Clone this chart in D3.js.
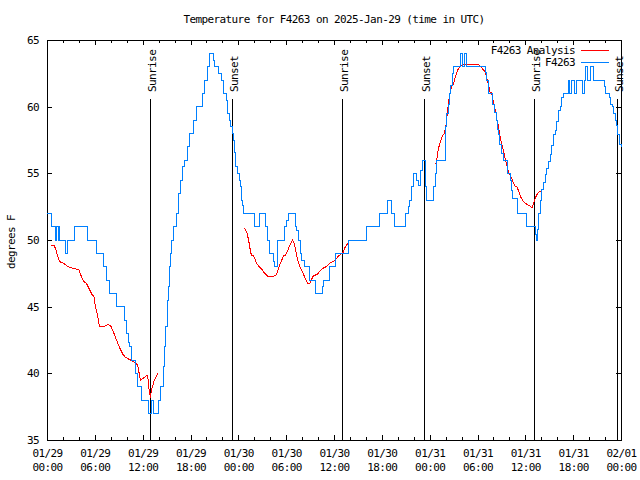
<!DOCTYPE html>
<html><head><meta charset="utf-8">
<script src="https://cdn.jsdelivr.net/npm/d3@7"></script>
<style>
body{margin:0;background:#fff}
svg text{font-family:"DejaVu Sans Mono",monospace;font-size:11px;letter-spacing:-0.6px;fill:#000}
</style></head><body>
<svg id="c" width="640" height="480"></svg>
<script>
const title = "Temperature for F4263 on 2025-Jan-29 (time in UTC)";
const yLabel = "degrees F";
const yTicks = [35, 40, 45, 50, 55, 60, 65];
const startTime = "2025-01-29T00:00:00Z";
const spanHours = 72;
const sunriseHours = [12.96, 37.04, 61.13];
const sunsetHours = [23.24, 47.33, 71.44];
const seriesNames = ["F4263 Analysis", "F4263"];

// observations (F4263) - hours since start, degrees F (value holds until next point)
const obsHours = [0,0.53,1.07,1.19,1.38,1.50,1.63,2.32,2.57,3.51,5.04,6.17,7.04,7.46,7.87,8.71,9.75,9.92,10.17,10.34,10.59,11.13,11.3,11.84,12.76,13.06,13.31,13.97,14.27,14.6,14.79,14.91,15.06,15.16,15.27,15.39,15.52,15.64,15.9,16.19,16.44,16.73,17.02,17.27,17.57,17.86,18.4,18.74,19.45,19.74,20.08,20.4,20.9,21.05,21.56,21.83,22.16,22.46,22.68,22.87,23.06,23.25,23.41,23.54,23.66,23.88,24.09,24.29,24.38,24.5,24.71,26.0,26.69,27.38,27.6,27.92,28.42,28.55,28.97,29.85,30.1,30.23,31.14,31.35,31.56,31.77,31.98,32.27,32.9,33.74,34.57,34.69,35.4,36.2,37.79,40.13,41.71,42.67,43.27,43.64,44.99,45.3,45.52,45.72,46.02,46.4,46.62,46.87,47.1,47.5,47.66,48.48,48.69,48.85,50.03,50.15,50.32,50.48,50.66,50.82,50.98,51.82,52.07,52.33,52.64,54.96,55.17,55.37,55.87,56.08,56.33,56.46,56.65,56.77,56.96,57.21,57.78,58.09,58.21,58.43,58.97,60.12,61.26,61.41,61.54,61.66,61.85,62.06,62.26,62.48,62.69,62.89,63.1,63.31,63.52,63.73,63.94,64.14,64.36,64.57,64.77,65.36,65.55,65.8,66.17,66.36,67.18,67.37,67.49,67.81,68.18,68.5,69.87,70.09,70.5,70.71,70.88,71.04,71.25,71.46,71.59,71.79,72];
const obsTemps = [52,51,50,51,50,51,50,49,50,51,50,49,48,47,46,45,44,43,42.3,42,41,40,39,38,37,38,37,38,39,40.5,42,43.5,44.5,45.5,46.5,48,49,50,51,52,53.5,54.5,55.5,56,57,58,59,60,61,62,63,64,63.5,63,62.5,62,61,60.5,59.5,59,58.5,58,57.5,56.6,55.5,55,54.5,54,53,52.6,52,51,52,51,50,49,48.4,48,50,51,51.5,52,51,50.7,50,49,48.5,48,47,46,46.5,47,48,49,50,51,52,53,52,51,52,52.5,53,54,55,54.5,54.1,55.2,56,54,53,54,55,56,58.5,59.5,60.2,61,61.6,62.5,63,64,63,64,63,62.6,62,61,60.2,59.6,59,58.3,57.9,57.2,56.5,56,55,54.5,53.7,53.1,52,51,50.4,50,50.8,52,53,53.8,54.3,54.9,55.4,55.9,56.4,57.1,57.9,58.2,58.9,59.7,60,60.7,61,62,61,62,61,62,61,62,63,62,63,62,61.5,61,60.7,60.2,60,59.5,59,58.6,57.9,57.2,57];

// analysis (F4263 Analysis) - null marks a gap
const anaHours = [0.53,0.85,1.07,1.28,1.6,2.11,2.61,3.57,3.99,4.29,4.61,4.95,5.24,5.66,5.87,6.08,6.29,6.49,6.62,7.12,7.62,7.96,8.3,8.71,9.12,9.55,9.84,10.46,11.09,11.38,11.72,12.13,12.56,12.63,12.85,12.97,13.18,13.47,13.81,13.94,
  null,
  24.79,25.09,25.29,25.42,25.63,25.92,26.13,26.34,26.67,26.97,27.17,27.51,27.72,28.22,28.76,29.05,29.35,29.68,29.93,30.3,30.61,30.81,30.93,31.14,31.36,31.56,31.77,32.11,32.4,32.69,32.94,33.15,33.44,33.86,34.19,34.62,35.03,35.44,35.87,36.16,36.57,36.87,37.12,37.32,37.54,37.75,37.91,
  null,
  48.78,48.9,49.1,49.32,49.65,49.86,50.07,50.23,50.36,50.57,50.78,50.98,51.2,51.41,51.61,51.82,52.24,52.66,53.7,54.12,54.54,54.96,55.17,55.37,55.58,55.79,56.0,56.3,56.42,56.63,56.84,57.05,57.25,57.46,57.67,57.88,58.13,58.3,58.5,58.72,58.97,59.19,59.47,59.72,60.03,60.35,60.63,60.84,61.01,61.22,61.47,61.72,61.91];
const anaTemps = [49.62,49.62,49.37,48.9,48.37,48.25,48.0,47.83,47.8,47.3,46.9,46.75,46.4,45.9,45.8,45.0,44.5,43.8,43.5,43.5,43.65,43.6,43.15,42.5,41.9,41.4,41.2,41.0,40.8,40.6,39.47,39.67,39.85,39.85,38.5,38.3,38.9,39.5,39.9,40.0,
  null,
  50.87,50.5,50.0,49.5,48.87,48.8,48.5,48.2,47.95,47.8,47.6,47.38,47.25,47.25,47.38,47.88,48.37,48.8,48.87,49.37,49.8,50.0,49.87,49.37,48.75,48.25,47.95,47.5,47.13,46.76,46.7,47.0,47.34,47.4,47.63,47.88,48.0,48.25,48.37,48.5,48.8,48.95,49.05,49.37,49.6,49.75,49.8,
  null,
  55.73,56.1,56.85,57.35,57.85,58.0,58.7,59.6,60.35,61.1,61.5,61.7,62.2,62.6,62.85,63.0,63.15,63.2,63.2,63.15,62.9,62.6,62.1,61.7,61.1,61.0,60.35,59.6,59.1,58.5,57.7,57.2,56.7,56.15,55.6,55.15,54.8,54.6,54.25,54.05,53.98,53.6,53.17,52.93,52.75,52.63,52.52,52.42,52.72,53.1,53.42,53.6,53.63];

const L = 47, R = 621, T = 40, B = 440;
const anaColor = "#ff0000", obsColor = "#0080ff";

const svg = d3.select("#c");
const t0 = new Date(startTime);
const toDate = h => new Date(t0.getTime() + h * 3600e3);
const x = d3.scaleUtc().domain([t0, toDate(spanHours)]).range([L, R]);
const y = d3.scaleLinear().domain([yTicks[0], yTicks[yTicks.length - 1]]).range([B, T]);

const minorTicks = d3.utcHour.every(2).range(t0, new Date(toDate(spanHours).getTime() + 1));
const majorTicks = d3.utcHour.every(6).range(t0, new Date(toDate(spanHours).getTime() + 1));

function strip(g) { g.select(".domain").remove(); g.selectAll("line").attr("shape-rendering", "crispEdges"); }

// minor ticks bottom/top
svg.append("g").attr("transform", `translate(0,${B})`)
  .call(d3.axisBottom(x).tickValues(minorTicks).tickSize(-3).tickFormat(""))
  .call(strip);
svg.append("g").attr("transform", `translate(0,${T})`)
  .call(d3.axisTop(x).tickValues(minorTicks).tickSize(-3).tickFormat(""))
  .call(strip);
// major ticks bottom with labels
const fmtD = d3.utcFormat("%m/%d"), fmtT = d3.utcFormat("%H:%M");
const gx = svg.append("g").attr("transform", `translate(0,${B})`)
  .call(d3.axisBottom(x).tickValues(majorTicks).tickSize(-5).tickPadding(0).tickFormat(""))
  .call(strip);
gx.selectAll(".tick text").each(function(d) {
  const t = d3.select(this).attr("dy", null).attr("y", 0).attr("font-family", null).attr("font-size", null);
  t.append("tspan").attr("x", 0).attr("y", 17).text(fmtD(d));
  t.append("tspan").attr("x", 0).attr("y", 31).text(fmtT(d));
});
svg.append("g").attr("transform", `translate(0,${T})`)
  .call(d3.axisTop(x).tickValues(majorTicks).tickSize(-5).tickFormat(""))
  .call(strip);
// y axes
const gy = svg.append("g").attr("transform", `translate(${L},0)`)
  .call(d3.axisLeft(y).tickValues(yTicks).tickSize(-5).tickPadding(8).tickFormat(d3.format("d")))
  .call(strip);
gy.selectAll(".tick text").attr("font-family", null).attr("font-size", null);
svg.append("g").attr("transform", `translate(${R},0)`)
  .call(d3.axisRight(y).tickValues(yTicks).tickSize(-5).tickFormat(""))
  .call(strip);

// frame
svg.append("rect").attr("x", L).attr("y", T).attr("width", R - L).attr("height", B - T)
  .attr("fill", "none").attr("stroke", "#000").attr("shape-rendering", "crispEdges");

// sunrise / sunset lines
const events = sunriseHours.map(h => ({h, label: "Sunrise"}))
  .concat(sunsetHours.map(h => ({h, label: "Sunset"})));
const ev = svg.append("g");
events.forEach(e => {
  const xp = Math.round(x(toDate(e.h)));
  ev.append("line").attr("x1", xp).attr("x2", xp).attr("y1", 99).attr("y2", B)
    .attr("stroke", "#000").attr("shape-rendering", "crispEdges");
  ev.append("text").attr("transform", `translate(${xp + 6},92) rotate(-90)`).text(e.label);
});

// series
const anaData = anaHours.map((h, i) => ({h, v: anaTemps[i]}));
const obsData = obsHours.map((h, i) => ({h, v: obsTemps[i]}));
const lineAna = d3.line().defined(d => d.h != null && d.v != null)
  .x(d => x(toDate(d.h))).y(d => y(d.v)).curve(d3.curveLinear);
const lineObs = d3.line().x(d => x(toDate(d.h))).y(d => y(d.v)).curve(d3.curveStepAfter);

svg.append("path").datum(anaData).attr("d", lineAna).attr("fill", "none")
  .attr("stroke", anaColor).attr("stroke-width", 1).attr("shape-rendering", "crispEdges");
svg.append("path").datum(obsData).attr("d", lineObs).attr("fill", "none")
  .attr("stroke", obsColor).attr("stroke-width", 1).attr("shape-rendering", "crispEdges");

// title & labels
svg.append("text").attr("x", (L + R) / 2).attr("y", 23).attr("text-anchor", "middle").text(title);
svg.append("text").attr("transform", `translate(15,242) rotate(-90)`).attr("text-anchor", "middle").text(yLabel);

// legend
const lg = svg.append("g");
[anaColor, obsColor].forEach((c, i) => {
  const yy = 50 + i * 12;
  lg.append("text").attr("x", 575).attr("y", yy + 4).attr("text-anchor", "end").text(seriesNames[i]);
  lg.append("line").attr("x1", 581).attr("x2", 609).attr("y1", yy).attr("y2", yy)
    .attr("stroke", c).attr("stroke-width", 1).attr("shape-rendering", "crispEdges");
});
</script>
</body></html>
